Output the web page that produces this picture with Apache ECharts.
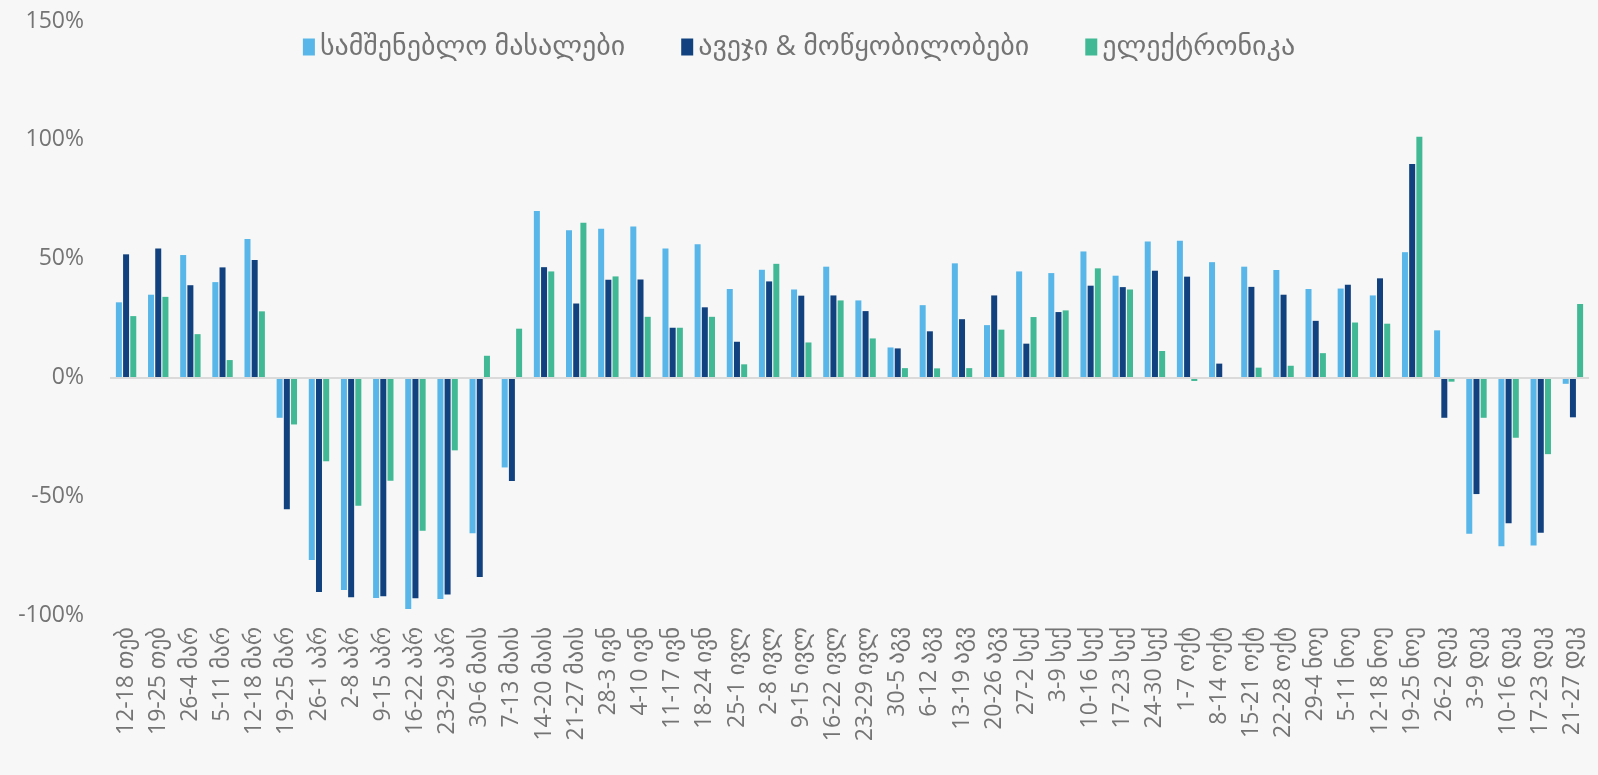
<!DOCTYPE html>
<html>
<head>
<meta charset="utf-8">
<script src="https://cdn.jsdelivr.net/npm/echarts@6/dist/echarts.min.js"></script>
<style>
  html, body { margin: 0; padding: 0; background: #f7f7f7; }
  #chart { width: 1598px; height: 775px; }
</style>
</head>
<body>
<div id="chart"></div>
<script>
const categories = [
  '12-18 თებ', '19-25 თებ', '26-4 მარ', '5-11 მარ', '12-18 მარ', '19-25 მარ',
  '26-1 აპრ', '2-8 აპრ', '9-15 აპრ', '16-22 აპრ', '23-29 აპრ', '30-6 მაის',
  '7-13 მაის', '14-20 მაის', '21-27 მაის', '28-3 ივნ', '4-10 ივნ', '11-17 ივნ',
  '18-24 ივნ', '25-1 ივლ', '2-8 ივლ', '9-15 ივლ', '16-22 ივლ', '23-29 ივლ',
  '30-5 აგვ', '6-12 აგვ', '13-19 აგვ', '20-26 აგვ', '27-2 სექ', '3-9 სექ',
  '10-16 სექ', '17-23 სექ', '24-30 სექ', '1-7 ოქტ', '8-14 ოქტ', '15-21 ოქტ',
  '22-28 ოქტ', '29-4 ნოე', '5-11 ნოე', '12-18 ნოე', '19-25 ნოე', '26-2 დეკ',
  '3-9 დეკ', '10-16 დეკ', '17-23 დეკ', '21-27 დეკ'
]

const seriesNames = ['სამშენებლო მასალები', 'ავეჯი & მოწყობილობები', 'ელექტრონიკა']

// სამშენებლო მასალები
const buildingMaterials = [
  31.6, 34.8, 51.5, 40.1, 58.2, -17.0, -76.9, -89.5, -92.8, -97.5, -93.3, -65.6,
  -37.9, 70.0, 61.9, 62.6, 63.5, 54.3, 56.0, 37.2, 45.3, 37.0, 46.6, 32.4,
  12.6, 30.4, 48.0, 22.0, 44.6, 43.9, 53.0, 42.8, 57.2, 57.5, 48.5, 46.6,
  45.2, 37.2, 37.4, 34.5, 52.7, 19.8, -65.8, -71.1, -70.8, -2.7
]
// ავეჯი & მოწყობილობები
const furniture = [
  51.8, 54.3, 38.8, 46.3, 49.4, -55.5, -90.3, -92.5, -92.1, -93.0, -91.4, -84.0,
  -43.6, 46.4, 31.1, 41.1, 41.2, 20.9, 29.5, 15.0, 40.4, 34.4, 34.5, 27.9,
  12.2, 19.4, 24.5, 34.5, 14.2, 27.5, 38.6, 38.0, 44.9, 42.4, 5.8, 38.1,
  34.8, 23.8, 39.0, 41.7, 89.8, -17.0, -49.1, -61.4, -65.4, -16.8
]
// ელექტრონიკა
const electronics = [
  25.8, 33.9, 18.2, 7.3, 27.8, -19.8, -35.3, -54.0, -43.5, -64.5, -30.7, 9.1,
  20.5, 44.6, 65.1, 42.5, 25.5, 20.9, 25.5, 5.5, 47.8, 14.7, 32.4, 16.4,
  3.9, 3.8, 3.9, 20.1, 25.4, 28.2, 45.9, 37.0, 11.1, -1.5, 0, 4.1,
  4.9, 10.2, 23.1, 22.6, 101.3, -1.8, -17.0, -25.4, -32.3, 30.9
]

const colors = ['#58b6e8', '#11427f', '#40b994']
const textColor = '#747474'
const font = "'Open Sans', 'DejaVu Sans', sans-serif"

const chart = echarts.init(document.getElementById('chart'))

const makeSeries = (name, data, i) => ({
  name: name,
  type: 'bar',
  data: data,
  barWidth: 6,
  barGap: '20%',
  itemStyle: { color: colors[i] },
  animation: false
})

const series = [
  makeSeries(seriesNames[0], buildingMaterials, 0),
  makeSeries(seriesNames[1], furniture, 1),
  makeSeries(seriesNames[2], electronics, 2)
]
// zero line, labels stay at the bottom
series[0].markLine = {
  silent: true,
  symbol: 'none',
  label: { show: false },
  lineStyle: { color: '#dadada', width: 2, type: 'solid' },
  data: [{ yAxis: 0 }]
}

chart.setOption({
  backgroundColor: '#f7f7f7',
  color: colors,
  legend: {
    top: 28,
    left: 'center',
    itemWidth: 12,
    itemHeight: 17,
    itemGap: 56,
    icon: 'rect',
    textStyle: { color: textColor, fontSize: 28, fontFamily: font },
    data: seriesNames
  },
  grid: {
    left: 110,
    right: 9,
    top: 21,
    bottom: 160
  },
  xAxis: {
    type: 'category',
    data: categories,
    axisLine: { show: false },
    axisTick: { show: false },
    axisLabel: {
      interval: 0,
      rotate: 90,
      margin: 12,
      color: textColor,
      fontSize: 23,
      fontFamily: font
    }
  },
  yAxis: {
    type: 'value',
    min: -100,
    max: 150,
    interval: 50,
    axisLine: { show: false },
    axisTick: { show: false },
    splitLine: { show: false },
    axisLabel: {
      formatter: '{value}%',
      margin: 26,
      color: textColor,
      fontSize: 23,
      fontFamily: font
    }
  },
  series: series
})
</script>
</body>
</html>
